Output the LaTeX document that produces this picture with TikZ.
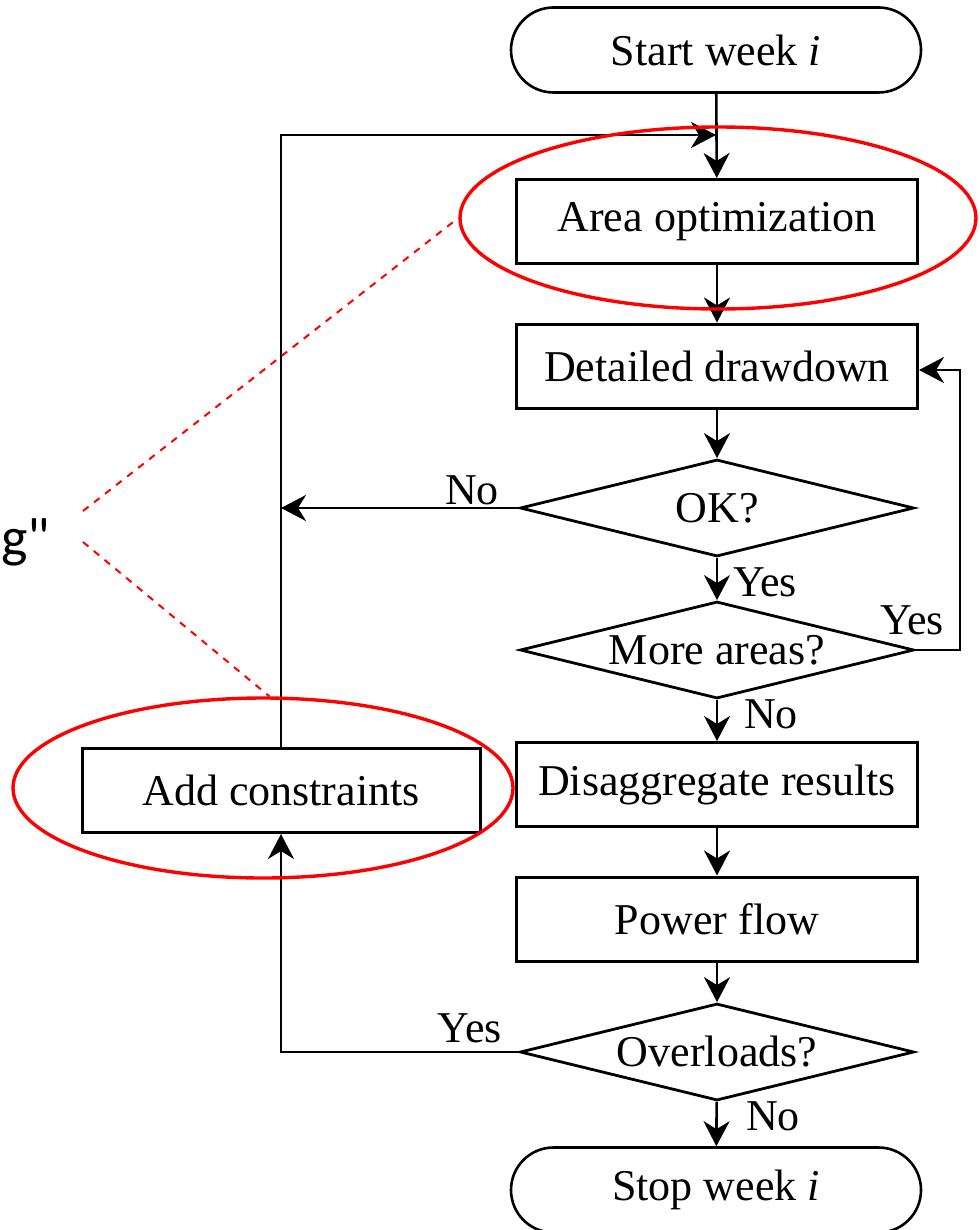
\documentclass[tikz,border=0pt]{standalone}
\usepackage{fontspec}
\setmainfont{Liberation Serif}
\newfontfamily\calibfont{Carlito}
\usetikzlibrary{shapes.geometric,shapes.misc,arrows.meta}

\begin{document}
\begin{tikzpicture}[x=0.5pt,y=-0.5pt,
  every node/.style={font=\fontsize{22}{26}\selectfont},
  stepbox/.style={draw, rectangle, line width=1.5pt, inner sep=0pt,
    minimum width=200.5pt, minimum height=42pt},
  term/.style={draw, rounded rectangle, line width=1.3pt, inner sep=0pt,
    minimum width=205pt, minimum height=42.5pt},
  decide/.style={draw, diamond, aspect=4, line width=1.4pt, inner sep=0pt,
    minimum width=197pt, minimum height=48.5pt},
  conn/.style={-{Stealth[length=12.5pt,width=13pt,inset=4pt]}, line width=1.3pt},
  lbl/.style={inner sep=0pt},
  hilite/.style={draw=red, ellipse, line width=1.7pt, inner sep=0pt},
  lead/.style={draw=red, dash pattern=on 3.5pt off 3.5pt, line width=1pt}]

\useasboundingbox (0,0) rectangle (979,1230);

% main column
\node[term]     (start)  at (716,50)    {Start week \textit{i}};
\node[stepbox]  (area)   at (717,221.5) {Area optimization};
\node[stepbox]  (detail) at (717,366)   {Detailed drawdown};
\node[decide]   (ok)     at (717,508)   {OK?};
\node[decide]   (more)   at (717,650)   {More areas?};
\node[stepbox]  (disagg) at (717,784.5) {Disaggregate results};
\node[stepbox]  (power)  at (717,919)   {Power flow};
\node[decide]   (over)   at (717,1052)  {Overloads?};
\node[term]     (stop)   at (716,1190)  {Stop week \textit{i}};

% side box
\node[stepbox, minimum width=199pt] (add) at (281,790.5) {Add constraints};

% helper points for the loops
\coordinate (top)   at (716,135);
\coordinate (rloop) at (960,370);

% straight flow
\draw[conn] (start) -- (area);
\draw[conn] (area) -- (detail);
\draw[conn] (detail) -- (ok);
\draw[conn] (ok) -- (more);
\draw[conn] (more) -- (disagg);
\draw[conn] (disagg) -- (power);
\draw[conn] (power) -- (over);
\draw[conn] (over) -- (stop);

% loops
\draw[conn] (add.north) |- (top);
\draw[conn] (ok.west) -- (add.north |- ok.west);
\draw[conn] (more.east) -| (rloop) -- (detail.east |- rloop);
\draw[conn] (over.west) -| (add.south);

% branch labels
\node[lbl] (lno1)  at (472,490)  {No};
\node[lbl] (lyes1) at (765,582)  {Yes};
\node[lbl] (lyes2) at (912,620)  {Yes};
\node[lbl] (lno2)  at (771,714)  {No};
\node[lbl] (lyes3) at (470,1028) {Yes};
\node[lbl] (lno3)  at (773,1116) {No};

% red highlight rings and leader lines
\node[hilite, minimum width=258pt, minimum height=91pt] (ring1) at (718,218) {};
\node[hilite, minimum width=250pt, minimum height=90pt] (ring2) at (263,788) {};
\node[anchor=base west, inner sep=0pt, font=\calibfont\fontsize{28}{34}\selectfont]
  (gq) at (1,556) {g"};
\coordinate (lead1) at (83,511);
\coordinate (lead2) at (83,542);
\draw[lead] (lead1) -- (ring1.west);
\draw[lead] (lead2) -- (ring2.86);
\end{tikzpicture}
\end{document}
